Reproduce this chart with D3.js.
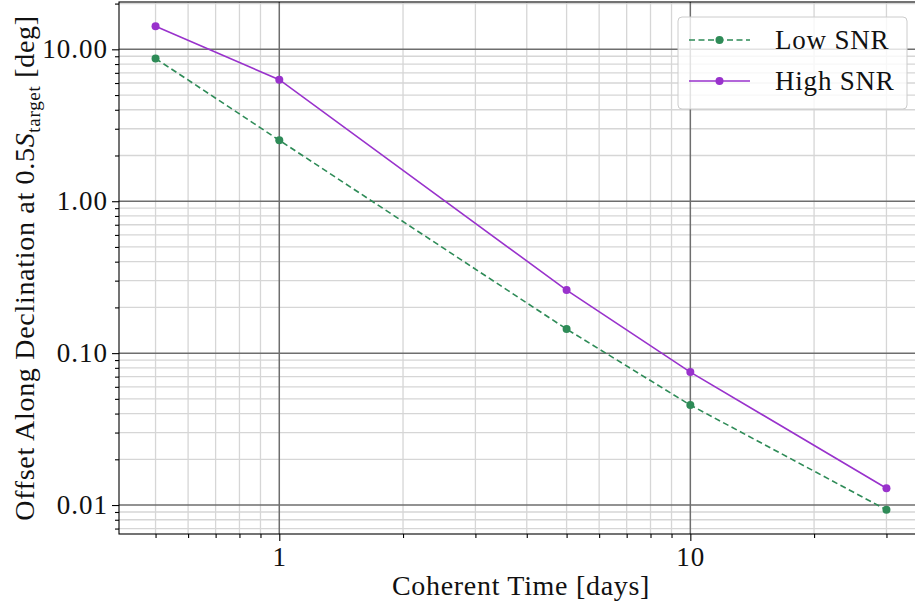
<!DOCTYPE html>
<html>
<head>
<meta charset="utf-8">
<script src="https://cdn.jsdelivr.net/npm/d3@7"></script>
<style>
  html, body { margin: 0; padding: 0; background: #fff; }
  svg text { font-family: "Liberation Serif", "DejaVu Serif", serif; fill: #111; }
</style>
</head>
<body>
<svg id="chart" width="915" height="612"></svg>
<script>
// Coherent integration time (days)
const coherentTime = [0.5, 1, 5, 10, 30];
// Declination offset at half target sensitivity (deg)
const lowSNR  = [8.7, 2.52, 0.144, 0.0455, 0.0093];
const highSNR = [14.2, 6.31, 0.26, 0.075, 0.0129];
const seriesNames = ["Low SNR", "High SNR"];
const yTickLabels = ["0.01", "0.10", "1.00", "10.00"];
const xTickLabels = ["1", "10"];

const W = 915, H = 612;
const plot = { left: 119, top: 2, right: 923, bottom: 534 };

// log-space padding of 5% on each side
function padLog(vals) {
  const lo = Math.log10(d3.min(vals)), hi = Math.log10(d3.max(vals));
  const p = (hi - lo) * 0.05;
  return [Math.pow(10, lo - p), Math.pow(10, hi + p)];
}

const x = d3.scaleLog().domain(padLog(coherentTime)).range([plot.left, plot.right]);
const y = d3.scaleLog().domain(padLog(lowSNR.concat(highSNR))).range([plot.bottom, plot.top]);

const svg = d3.select("#chart");
svg.append("rect").attr("width", W).attr("height", H).attr("fill", "#fff");

function logTicks(domain) {
  const major = [], minor = [];
  const e0 = Math.floor(Math.log10(domain[0])), e1 = Math.ceil(Math.log10(domain[1]));
  for (let e = e0; e <= e1; e++) {
    for (let k = 1; k <= 9; k++) {
      const v = k * Math.pow(10, e);
      if (v < domain[0] || v > domain[1]) continue;
      (k === 1 ? major : minor).push(v);
    }
  }
  return { major, minor };
}
const xt = logTicks(x.domain()), yt = logTicks(y.domain());

svg.append("defs").append("clipPath").attr("id", "plotclip")
  .append("rect").attr("x", plot.left).attr("y", plot.top)
  .attr("width", plot.right - plot.left).attr("height", plot.bottom - plot.top);

const grid = svg.append("g").attr("clip-path", "url(#plotclip)");
// minor grid
grid.selectAll(".gx-minor").data(xt.minor).join("line")
  .attr("x1", d => x(d)).attr("x2", d => x(d))
  .attr("y1", plot.top).attr("y2", plot.bottom)
  .attr("stroke", "#d6d6d6").attr("stroke-width", 1.3);
grid.selectAll(".gy-minor").data(yt.minor).join("line")
  .attr("y1", d => y(d)).attr("y2", d => y(d))
  .attr("x1", plot.left).attr("x2", plot.right)
  .attr("stroke", "#d6d6d6").attr("stroke-width", 1.3);
// major grid
grid.selectAll(".gx-major").data(xt.major).join("line")
  .attr("x1", d => x(d)).attr("x2", d => x(d))
  .attr("y1", plot.top).attr("y2", plot.bottom)
  .attr("stroke", "#6e6e6e").attr("stroke-width", 1.5);
grid.selectAll(".gy-major").data(yt.major).join("line")
  .attr("y1", d => y(d)).attr("y2", d => y(d))
  .attr("x1", plot.left).attr("x2", plot.right)
  .attr("stroke", "#6e6e6e").attr("stroke-width", 1.5);

// axes
const yAxis = d3.axisLeft(y).tickValues(yt.major).tickSize(7).tickPadding(4)
  .tickFormat((d, i) => yTickLabels[i]);
const yMinor = d3.axisLeft(y).tickValues(yt.minor).tickSize(4).tickFormat("");
const xAxis = d3.axisBottom(x).tickValues(xt.major).tickSize(7).tickPadding(6)
  .tickFormat((d, i) => xTickLabels[i]);
const xMinor = d3.axisBottom(x).tickValues(xt.minor).tickSize(4).tickFormat("");

function styleAxis(g) {
  g.select(".domain").remove();
  g.selectAll(".tick line").attr("stroke", "#000").attr("stroke-width", 1.1);
  g.selectAll("text").attr("font-size", 27).attr("fill", "#111")
    .attr("letter-spacing", 1)
    .style("font-family", '"Liberation Serif", serif');
}
svg.append("g").attr("transform", `translate(${plot.left},0)`).call(yMinor).call(styleAxis);
svg.append("g").attr("transform", `translate(${plot.left},0)`).call(yAxis).call(styleAxis);
svg.append("g").attr("transform", `translate(0,${plot.bottom})`).call(xMinor).call(styleAxis);
svg.append("g").attr("transform", `translate(0,${plot.bottom})`).call(xAxis).call(styleAxis);

// spines
svg.append("rect").attr("x", plot.left).attr("y", plot.top)
  .attr("width", plot.right - plot.left).attr("height", plot.bottom - plot.top)
  .attr("fill", "none").attr("stroke", "#000").attr("stroke-width", 1.1);

// series
const series = [
  { name: seriesNames[0], values: lowSNR, color: "#2e8b57", dash: "6,3.5" },
  { name: seriesNames[1], values: highSNR, color: "#9932cc", dash: null }
];
const line = d3.line().x(d => x(d[0])).y(d => y(d[1]));
const lines = svg.append("g").attr("clip-path", "url(#plotclip)");
series.forEach(s => {
  const pts = coherentTime.map((t, i) => [t, s.values[i]]);
  lines.append("path").datum(pts).attr("d", line)
    .attr("fill", "none").attr("stroke", s.color).attr("stroke-width", 1.6)
    .attr("stroke-dasharray", s.dash);
  lines.selectAll(null).data(pts).join("circle")
    .attr("cx", d => x(d[0])).attr("cy", d => y(d[1])).attr("r", 4)
    .attr("fill", s.color);
});

// legend
const lg = svg.append("g");
lg.append("rect").attr("x", 678).attr("y", 17).attr("width", 229).attr("height", 92)
  .attr("rx", 4).attr("fill", "#fff").attr("fill-opacity", 0.8)
  .attr("stroke", "#cccccc").attr("stroke-width", 1);
series.forEach((s, i) => {
  const cy = 40 + i * 41;
  lg.append("line").attr("x1", 689).attr("x2", 750).attr("y1", cy).attr("y2", cy)
    .attr("stroke", s.color).attr("stroke-width", 1.6).attr("stroke-dasharray", s.dash);
  lg.append("circle").attr("cx", 719.5).attr("cy", cy).attr("r", 4).attr("fill", s.color);
  lg.append("text").attr("x", 775).attr("y", cy + 9).attr("font-size", 27)
    .attr("letter-spacing", 0.8).text(s.name);
});

// axis titles
svg.append("text").attr("x", (plot.left + plot.right) / 2).attr("y", 595)
  .attr("text-anchor", "middle").attr("font-size", 28).attr("letter-spacing", 0.7)
  .text("Coherent Time [days]");

const yl = svg.append("text")
  .attr("transform", `translate(34,${(plot.top + plot.bottom) / 2}) rotate(-90)`)
  .attr("text-anchor", "middle").attr("font-size", 28).attr("letter-spacing", 0.7);
yl.append("tspan").text("Offset Along Declination at 0.5");
yl.append("tspan").attr("font-style", "italic").text("S");
yl.append("tspan").attr("font-size", 19).attr("dy", 6).text("target");
yl.append("tspan").attr("dy", -6).text(" [deg]");
</script>
</body>
</html>
